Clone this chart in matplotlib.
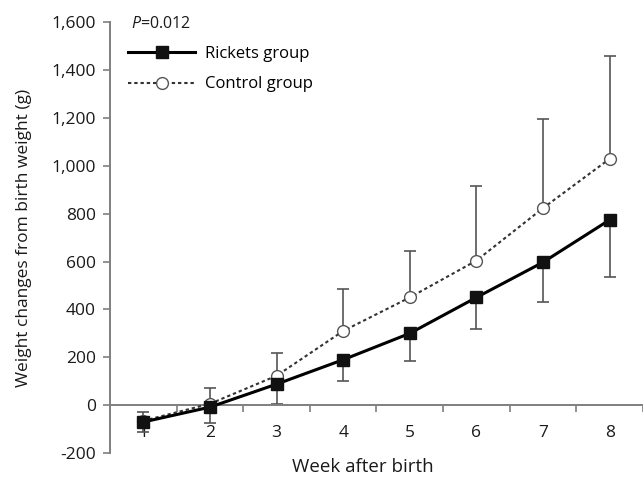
import matplotlib.pyplot as plt
from matplotlib.ticker import FixedLocator

plt.rcParams["font.family"] = ["Open Sans", "DejaVu Sans"]
plt.rcParams["mathtext.fontset"] = "custom"
plt.rcParams["mathtext.rm"] = "Open Sans"
plt.rcParams["mathtext.it"] = "Open Sans:italic"

INK = "#1a1a1a"
AXIS = "#7f7f7f"
ERR = "#555555"

weeks = [1, 2, 3, 4, 5, 6, 7, 8]
rickets_mean = [-70, -8, 88, 190, 300, 450, 597, 774]
rickets_low = [-110, -75, 5, 100, 183, 317, 429, 535]
control_mean = [-65, 6, 123, 310, 450, 604, 823, 1029]
control_high = [-28, 72, 220, 487, 643, 917, 1195, 1458]
yticks = [-200, 0, 200, 400, 600, 800, 1000, 1200, 1400, 1600]

rk_err = [[m - lo for m, lo in zip(rickets_mean, rickets_low)], [0] * len(weeks)]
ct_err = [[0] * len(weeks), [hi - m for m, hi in zip(control_mean, control_high)]]

fig = plt.figure(figsize=(6.43, 4.78), dpi=100)
ax = fig.add_axes([0.171, 0.052, 0.829, 0.902])

ax.errorbar(weeks, control_mean, yerr=ct_err, fmt="none", ecolor=ERR,
            elinewidth=1.2, capsize=4.5, capthick=1.2, zorder=2)
ax.errorbar(weeks, rickets_mean, yerr=rk_err, fmt="none", ecolor=ERR,
            elinewidth=1.2, capsize=4.5, capthick=1.2, zorder=2)
ax.plot(weeks, control_mean, color="#333333", linestyle=(0, (1.6, 1.4)), lw=1.5,
        marker="o", markersize=8.5, markerfacecolor="white",
        markeredgecolor="#555555", markeredgewidth=1.0,
        label="Control group", zorder=3)
ax.plot(weeks, rickets_mean, color="black", lw=2.2, marker="s", markersize=8,
        markerfacecolor="#111111", markeredgecolor="#111111",
        label="Rickets group", zorder=4)

ax.set_xlim(0.5, 8.5)
ax.set_ylim(-200, 1600)
ax.set_yticks(yticks)
ax.set_yticklabels([f"{v:,}" for v in yticks])
ax.set_xticks(weeks)
ax.xaxis.set_minor_locator(FixedLocator([w + 0.5 for w in weeks]))

for s in ["top", "right"]:
    ax.spines[s].set_visible(False)
ax.spines["bottom"].set_position(("data", 0))
for s in ["left", "bottom"]:
    ax.spines[s].set_color(AXIS)
    ax.spines[s].set_linewidth(1.4)

ax.tick_params(axis="y", direction="out", length=5, width=1.2, color=AXIS,
               labelsize=12.5, labelcolor=INK, pad=5)
ax.tick_params(axis="x", which="major", length=0, labelsize=12.5,
               labelcolor=INK, pad=14)
ax.tick_params(axis="x", which="minor", direction="out", length=5, width=1.2,
               color=AXIS)

ax.set_ylabel("Weight changes from birth weight (g)", fontsize=12.5,
              color=INK, labelpad=14)
fig.text(0.565, 0.022, "Week after birth", fontsize=13.5, color=INK,
         ha="center", va="center")

ax.text(0.04, 0.995, "$P$=0.012", transform=ax.transAxes, fontsize=11.5,
        color=INK, va="center", ha="left")
h, l = ax.get_legend_handles_labels()
ax.legend(h[::-1], l[::-1], loc="upper left", bbox_to_anchor=(0.022, 0.959),
          frameon=False, handlelength=4.0, fontsize=12, labelspacing=0.85,
          handletextpad=0.6, borderaxespad=0)

fig.savefig("out.png", dpi=100)
